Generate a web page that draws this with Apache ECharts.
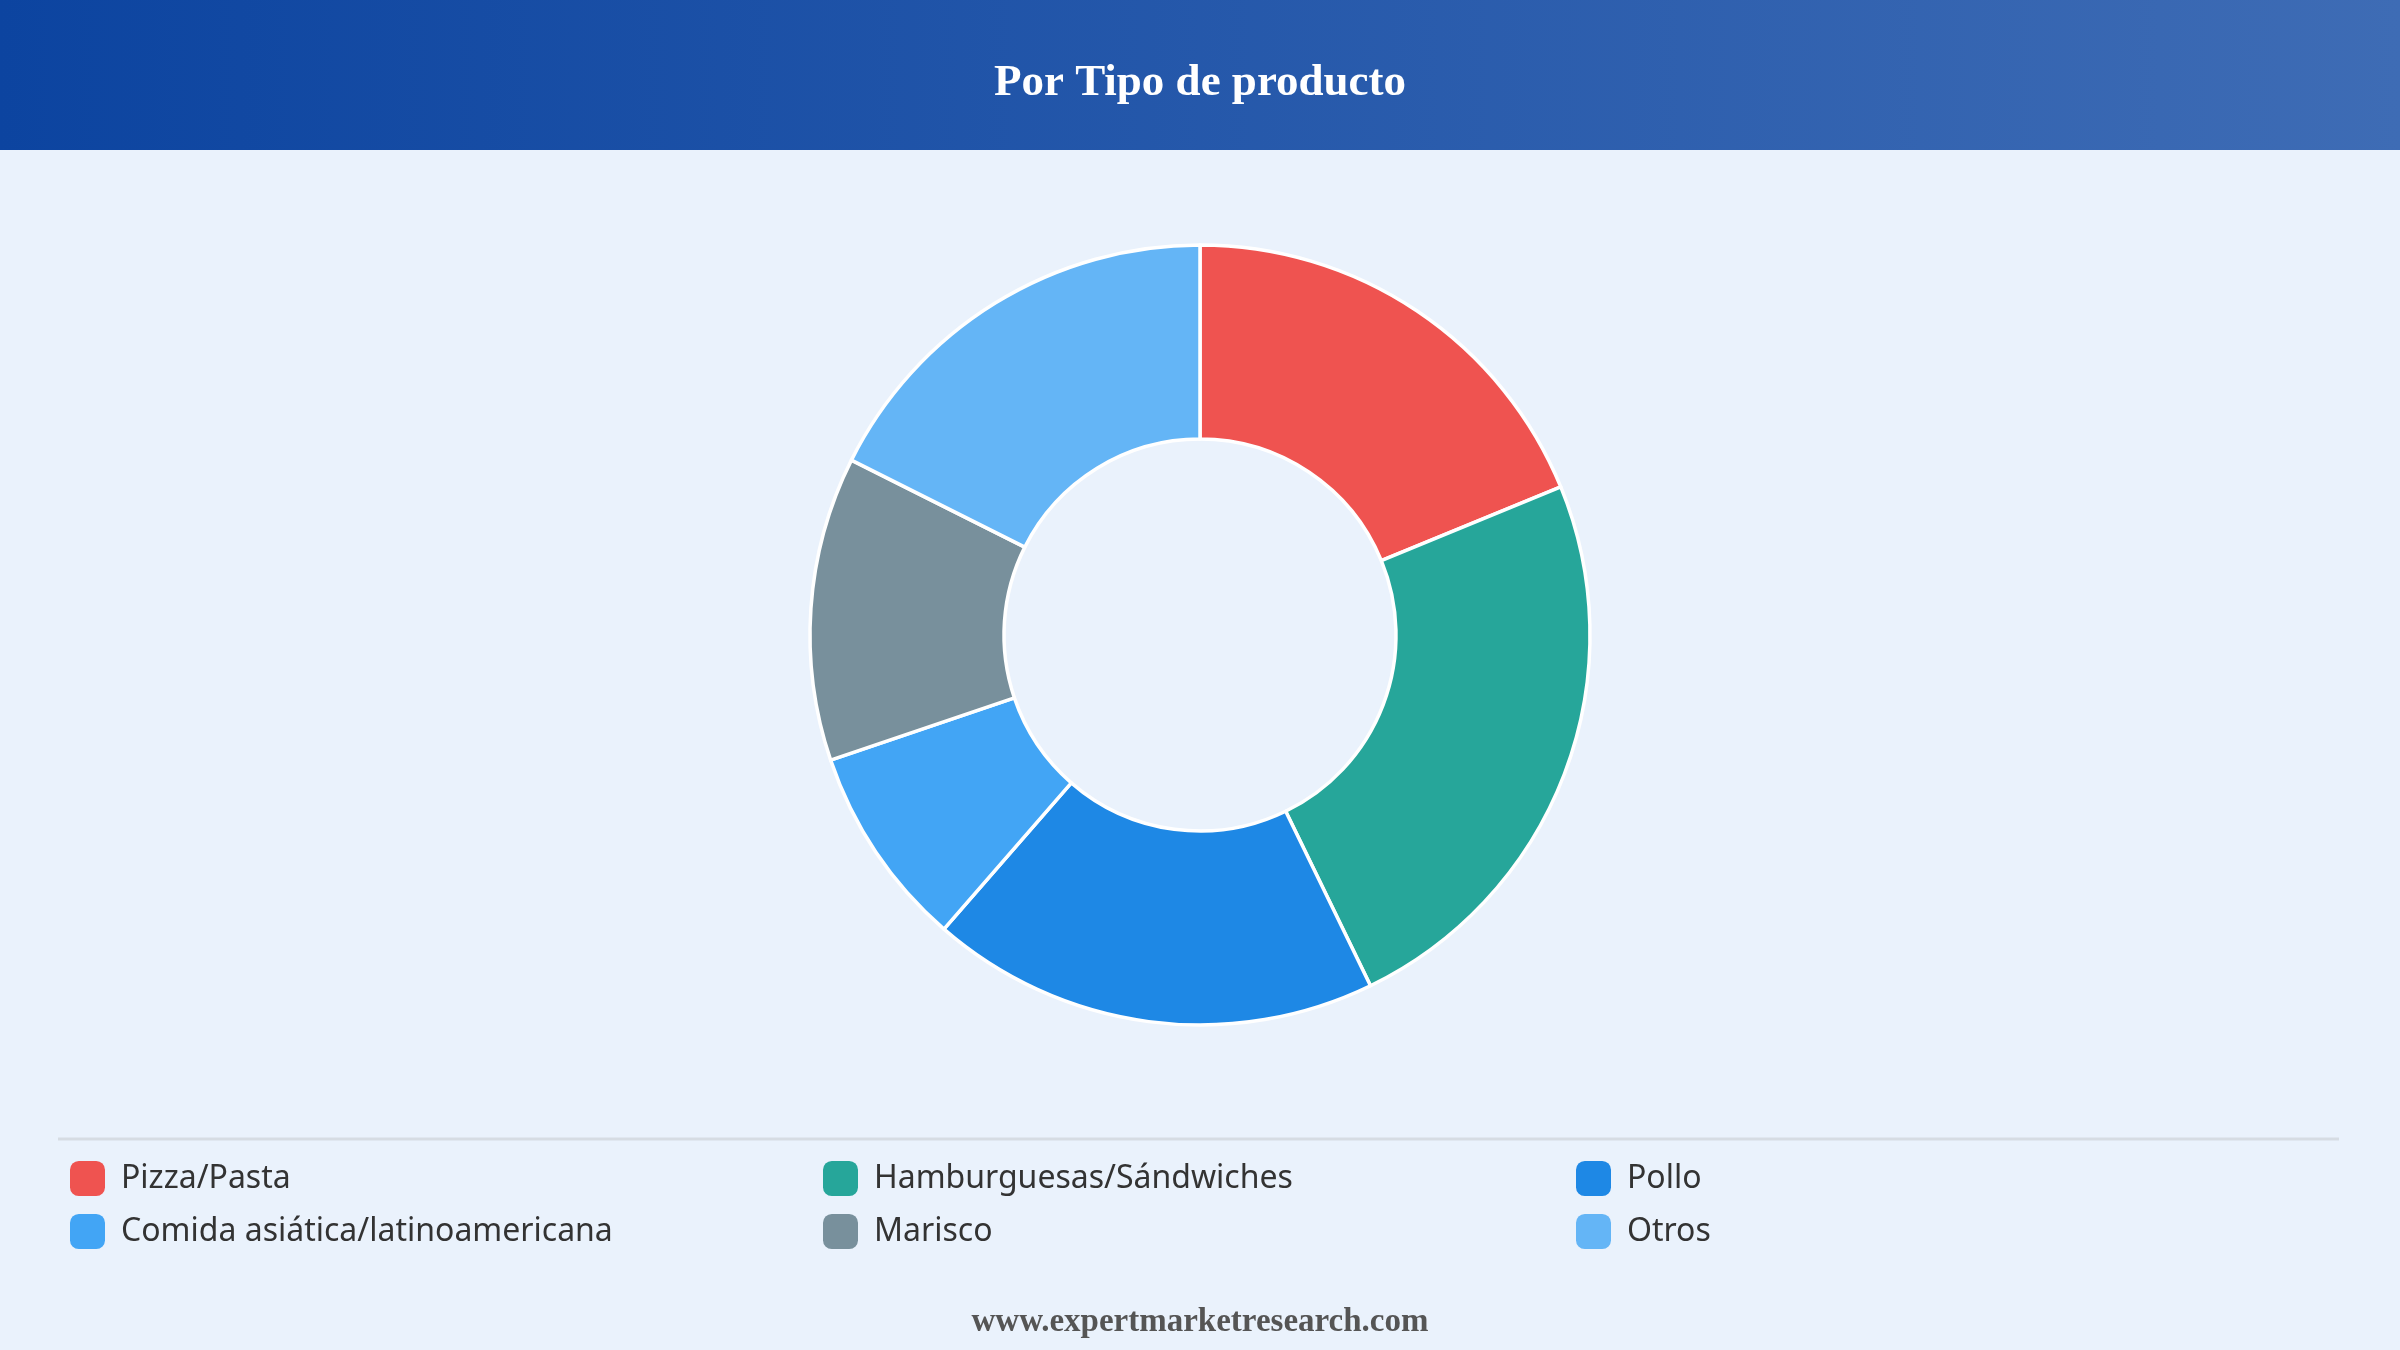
<!DOCTYPE html>
<html>
<head>
<meta charset="utf-8">
<script src="https://cdn.jsdelivr.net/npm/echarts@6/dist/echarts.min.js"></script>
<style>
  html, body { margin: 0; padding: 0; background: #eaf2fc; }
  #chart { width: 2400px; height: 1350px; }
</style>
</head>
<body>
<div id="chart"></div>
<script>
const categories = ['Pizza/Pasta', 'Hamburguesas/Sándwiches', 'Pollo', 'Comida asiática/latinoamericana', 'Marisco', 'Otros'];
const shares = [18.8, 24.0, 18.6, 8.4, 12.6, 17.6];
const colors = ['#ef5350', '#26a69a', '#1e88e5', '#42a5f5', '#78909c', '#64b5f6'];

document.addEventListener('DOMContentLoaded', () => {
    const myChart = echarts.init(document.getElementById('chart'));
    const option = {
        backgroundColor: '#eaf2fc',
        color: colors,
        graphic: [
            {
                type: 'rect',
                left: 0, top: 0, z: 0,
                shape: { width: 2400, height: 150 },
                style: {
                    fill: new echarts.graphic.LinearGradient(0, 0, 1, 0, [
                        { offset: 0, color: '#0c44a0' },
                        { offset: 1, color: '#3e6cb5' }
                    ])
                }
            },
            {
                type: 'text',
                left: 'center', top: 61, z: 2,
                style: {
                    text: 'Por Tipo de producto',
                    fill: '#ffffff',
                    font: 'bold 45px "Liberation Serif", "Times New Roman", serif'
                }
            },
            {
                type: 'line',
                z: 1,
                shape: { x1: 58, y1: 1139, x2: 2339, y2: 1139 },
                style: { stroke: '#d6dce3', lineWidth: 3 }
            },
            {
                type: 'text',
                left: 'center', top: 1306, z: 2,
                style: {
                    text: 'www.expertmarketresearch.com',
                    fill: '#555555',
                    font: 'bold 33px "Liberation Serif", "Times New Roman", serif'
                }
            }
        ],
        legend: {
            left: 65,
            top: 1156,
            width: 2300,
            orient: 'horizontal',
            itemWidth: 35,
            itemHeight: 35,
            itemGap: 18,
            icon: 'roundRect',
            itemStyle: { borderWidth: 0 },
            textStyle: {
                fontFamily: '"Noto Sans", "Open Sans", sans-serif',
                fontSize: 32,
                color: '#333333',
                width: 684,
                lineHeight: 35,
                padding: [0, 0, 0, 11]
            },
            data: categories
        },
        series: [{
            type: 'pie',
            center: [1200, 635],
            radius: [196, 390],
            startAngle: 90,
            clockwise: true,
            label: { show: false },
            labelLine: { show: false },
            emphasis: { scale: false },
            itemStyle: { borderColor: '#ffffff', borderWidth: 3.5 },
            data: categories.map((name, i) => ({ name: name, value: shares[i] }))
        }]
    };
    myChart.setOption(option);
    window.addEventListener('resize', () => myChart.resize());
});
</script>
</body>
</html>
